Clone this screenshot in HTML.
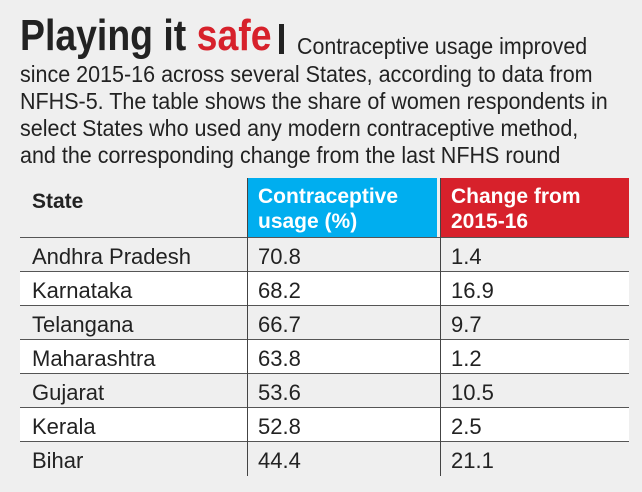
<!DOCTYPE html>
<html><head><style>
body{margin:0;width:642px;height:492px;background:#efefef;position:relative;overflow:hidden;font-family:"Liberation Sans",sans-serif;color:#222}
.l{position:absolute;left:20px;font-size:23px;white-space:nowrap;line-height:1;transform:scaleX(0.935);transform-origin:0 0}
.t{position:absolute;left:20px;top:14px;font-size:44px;font-weight:bold;white-space:nowrap;line-height:1;transform:scaleX(0.85);transform-origin:0 0}
.row{position:absolute;left:20px;width:609px;height:34px;border-bottom:1px solid #555;box-sizing:border-box}
.c{position:absolute;font-size:22px;top:6px;white-space:nowrap}
.v{position:absolute;top:178px;width:1px;height:298px;background:#444}
.h{position:absolute;top:178px;height:60px;color:#fff;font-weight:bold;font-size:21px;line-height:25px;padding:6px 0 0 10px;box-sizing:border-box}
</style></head><body>
<div class="t">Playing it <span style="color:#d7212b">safe</span></div>
<div style="position:absolute;left:279px;top:24px;width:5px;height:30px;background:#222;z-index:5"></div>
<div class="l" style="top:35px;left:297px;transform:scaleX(0.93)">Contraceptive usage improved</div>
<div class="l" style="top:63px">since 2015-16 across several States, according to data from</div>
<div class="l" style="top:90px">NFHS-5. The table shows the share of women respondents in</div>
<div class="l" style="top:117px">select States who used any modern contraceptive method,</div>
<div class="l" style="top:144px">and the corresponding change from the last NFHS round</div>
<div class="h" style="left:248px;width:189px;background:#00aeef">Contraceptive<br>usage (%)</div>
<div class="h" style="left:441px;width:188px;background:#d7212b">Change from<br>2015-16</div>
<div style="position:absolute;left:32px;top:190px;font-size:21px;font-weight:bold">State</div>
<div style="position:absolute;left:20px;top:237px;width:609px;height:1px;background:#555"></div>
<div class="row" style="top:238px"><span class="c" style="left:12px">Andhra Pradesh</span><span class="c" style="left:238px">70.8</span><span class="c" style="left:431px">1.4</span></div>
<div class="row" style="top:272px;background:#fff"><span class="c" style="left:12px">Karnataka</span><span class="c" style="left:238px">68.2</span><span class="c" style="left:431px">16.9</span></div>
<div class="row" style="top:306px"><span class="c" style="left:12px">Telangana</span><span class="c" style="left:238px">66.7</span><span class="c" style="left:431px">9.7</span></div>
<div class="row" style="top:340px;background:#fff"><span class="c" style="left:12px">Maharashtra</span><span class="c" style="left:238px">63.8</span><span class="c" style="left:431px">1.2</span></div>
<div class="row" style="top:374px"><span class="c" style="left:12px">Gujarat</span><span class="c" style="left:238px">53.6</span><span class="c" style="left:431px">10.5</span></div>
<div class="row" style="top:408px;background:#fff"><span class="c" style="left:12px">Kerala</span><span class="c" style="left:238px">52.8</span><span class="c" style="left:431px">2.5</span></div>
<div class="row" style="top:442px;border-bottom:none"><span class="c" style="left:12px">Bihar</span><span class="c" style="left:238px">44.4</span><span class="c" style="left:431px">21.1</span></div>
<div class="v" style="left:247px"></div>
<div class="v" style="left:440px"></div>
</body></html>
